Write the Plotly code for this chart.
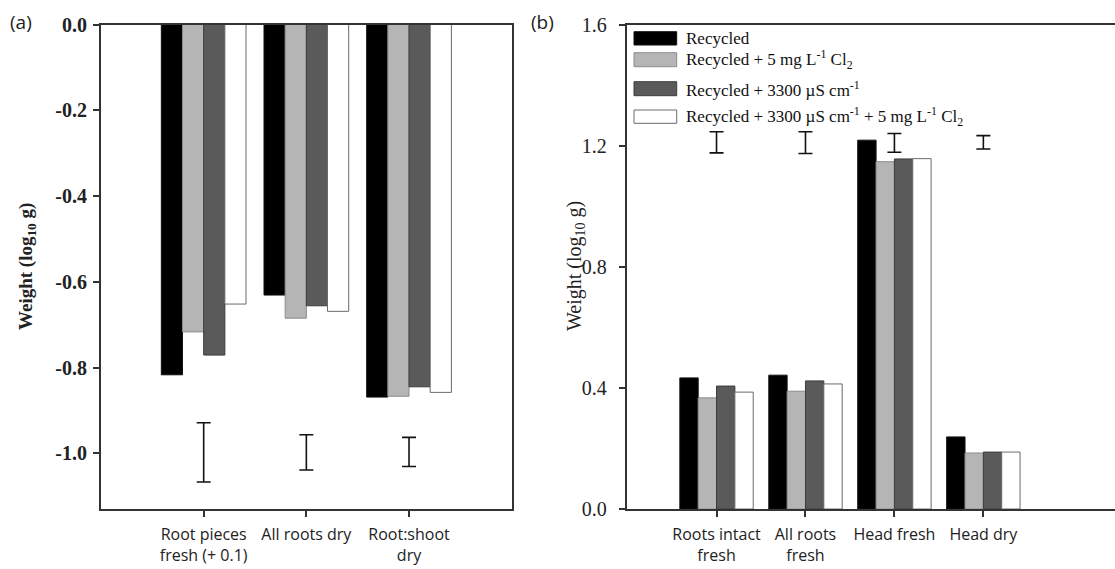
import plotly.graph_objects as go

W, H = 1115, 569

# ---------------- data ----------------
series_names = [
    "Recycled",
    "Recycled + 5 mg L<sup>-1</sup> Cl<sub>2</sub>",
    "Recycled + 3300 µS cm<sup>-1</sup>",
    "Recycled + 3300 µS cm<sup>-1</sup> + 5 mg L<sup>-1</sup> Cl<sub>2</sub>",
]
fill_colors = ["#000000", "#b5b5b5", "#5a5a5a", "#ffffff"]
line_colors = ["#111111", "#8c8c8c", "#3c3c3c", "#6a6a6a"]

cats_a = ["Root pieces<br>fresh (+ 0.1)", "All roots dry", "Root:shoot<br>dry"]
vals_a_recycled = [-0.817, -0.631, -0.869]
vals_a_cl2 = [-0.717, -0.685, -0.867]
vals_a_ec = [-0.771, -0.656, -0.845]
vals_a_ec_cl2 = [-0.652, -0.669, -0.858]
err_center_a = [-0.998, -0.998, -0.997]
err_half_a = [0.069, 0.041, 0.034]
yticks_a = [0.0, -0.2, -0.4, -0.6, -0.8, -1.0]
yticktext_a = ["0.0", "-0.2", "-0.4", "-0.6", "-0.8", "-1.0"]

cats_b = ["Roots intact<br>fresh", "All roots<br>fresh", "Head fresh", "Head dry"]
vals_b_recycled = [0.433, 0.442, 1.218, 0.238]
vals_b_cl2 = [0.367, 0.389, 1.147, 0.185]
vals_b_ec = [0.406, 0.423, 1.156, 0.188]
vals_b_ec_cl2 = [0.386, 0.413, 1.157, 0.188]
err_center_b = [1.211, 1.210, 1.209, 1.211]
err_half_b = [0.035, 0.036, 0.031, 0.022]
yticks_b = [0.0, 0.4, 0.8, 1.2, 1.6]
yticktext_b = ["0.0", "0.4", "0.8", "1.2", "1.6"]

vals_a = [vals_a_recycled, vals_a_cl2, vals_a_ec, vals_a_ec_cl2]
vals_b = [vals_b_recycled, vals_b_cl2, vals_b_ec, vals_b_ec_cl2]

# ---------------- helpers ----------------
def px(x):
    return x / W

def py(y):
    return 1 - y / H

SERIF = "Liberation Serif, Times New Roman, serif"
SANS = "Open Sans, Liberation Sans, sans-serif"
AX = "#333333"

fig = go.Figure()

for i in range(4):
    fig.add_trace(go.Bar(
        x=cats_a, y=vals_a[i], name=series_names[i], xaxis="x", yaxis="y",
        marker=dict(color=fill_colors[i], line=dict(color=line_colors[i], width=1)),
        showlegend=False,
    ))
for i in range(4):
    fig.add_trace(go.Bar(
        x=cats_b, y=vals_b[i], name=series_names[i], xaxis="x2", yaxis="y2",
        marker=dict(color=fill_colors[i], line=dict(color=line_colors[i], width=1)),
        showlegend=False,
    ))

fig.add_trace(go.Scatter(
    x=cats_a, y=err_center_a, mode="markers", xaxis="x", yaxis="y",
    marker=dict(size=0.1, color="rgba(0,0,0,0)"),
    error_y=dict(type="data", array=err_half_a, visible=True, color="#111", thickness=1.6, width=7),
    showlegend=False, hoverinfo="skip",
))
fig.add_trace(go.Scatter(
    x=cats_b, y=err_center_b, mode="markers", xaxis="x2", yaxis="y2",
    marker=dict(size=0.1, color="rgba(0,0,0,0)"),
    error_y=dict(type="data", array=err_half_b, visible=True, color="#111", thickness=1.6, width=7),
    showlegend=False, hoverinfo="skip",
))

ydom = [py(509), py(24.5)]

common_x = dict(
    type="category", automargin=False,
    showline=True, linecolor=AX, linewidth=2, mirror=True,
    ticks="outside", ticklen=6, tickwidth=2, tickcolor=AX,
    ticklabelstandoff=4,
    tickfont=dict(family=SANS, size=16, color="#222"),
    showgrid=False, zeroline=False,
)
common_y = dict(
    automargin=False,
    showline=True, linecolor=AX, linewidth=2,
    ticks="outside", ticklen=6, tickwidth=2, tickcolor=AX,
    showgrid=False, zeroline=False,
)

fig.update_layout(
    width=W, height=H,
    margin=dict(l=0, r=0, t=0, b=0, autoexpand=False),
    paper_bgcolor="white", plot_bgcolor="white",
    barmode="group", bargap=0.175, bargroupgap=0,
    xaxis=dict(domain=[px(101), px(511.7)], anchor="y", range=[-1, 3], **common_x),
    yaxis=dict(
        domain=ydom, anchor="x", range=[-1.13, 0], mirror=True,
        tickvals=yticks_a, ticktext=yticktext_a,
        ticklabelstandoff=2,
        tickfont=dict(family=SERIF, size=20, color="#222", weight="bold"),
        **common_y,
    ),
    xaxis2=dict(domain=[px(626.7), 1.0], anchor="y2", range=[-1.01, 4.48], **common_x),
    yaxis2=dict(
        domain=ydom, anchor="x2", range=[0, 1.6], mirror=False,
        tickvals=yticks_b, ticktext=yticktext_b,
        ticklabelstandoff=8,
        tickfont=dict(family=SERIF, size=20, color="#222"),
        **common_y,
    ),
)

annotations = [
    dict(text="(a)", x=px(8), y=py(7), xanchor="left", yanchor="top",
         font=dict(family=SANS, size=19, color="#222")),
    dict(text="(b)", x=px(529), y=py(7), xanchor="left", yanchor="top",
         font=dict(family=SANS, size=19, color="#222")),
    dict(text="Weight (log<sub>10</sub> g)", x=px(27), y=py(267), textangle=-90,
         xanchor="center", yanchor="middle",
         font=dict(family=SERIF, size=19, color="#222", weight="bold")),
    dict(text="Weight (log<sub>10</sub> g)", x=px(575), y=py(266), textangle=-90,
         xanchor="center", yanchor="middle",
         font=dict(family=SERIF, size=20, color="#222")),
]

# manual legend inside panel (b)
swatch_rows = [(31.7, 45.0), (52.7, 66.7), (81.7, 95.7), (110.0, 123.3)]
shapes = []
for i, (y0, y1) in enumerate(swatch_rows):
    shapes.append(dict(type="rect", xref="paper", yref="paper",
                       x0=px(634), x1=px(676.7), y0=py(y1), y1=py(y0),
                       fillcolor=fill_colors[i], line=dict(color=line_colors[i], width=1)))
    annotations.append(dict(text=series_names[i], x=px(684), y=py((y0 + y1) / 2),
                            xanchor="left", yanchor="middle", showarrow=False,
                            font=dict(family=SERIF, size=17, color="#111")))

for a in annotations:
    a.setdefault("showarrow", False)
    a.setdefault("xref", "paper")
    a.setdefault("yref", "paper")

fig.update_layout(annotations=annotations, shapes=shapes)

fig.write_html("out.html")
